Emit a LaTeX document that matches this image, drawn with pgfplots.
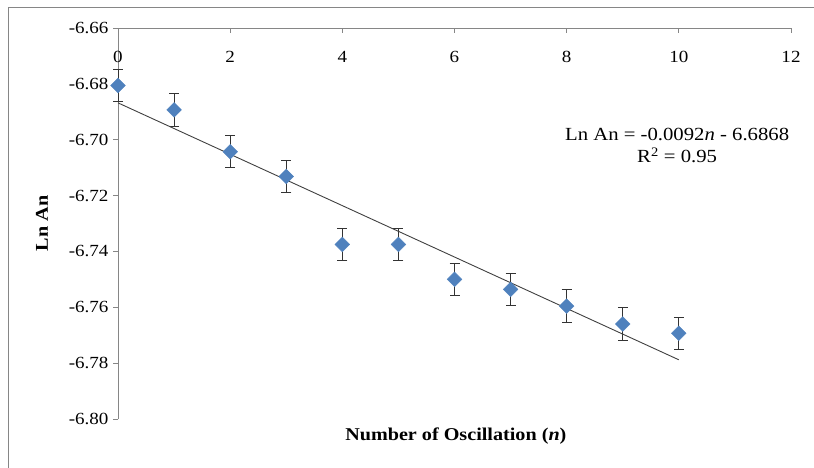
\documentclass[border=0pt]{standalone}
\usepackage{fontspec}
\setmainfont{Liberation Serif}[FakeStretch=1.12]
\usepackage{pgfplots}
\pgfplotsset{compat=1.18}
\definecolor{excelblue}{HTML}{4F81BD}
\definecolor{axisgray}{HTML}{868686}
\begin{document}
\begin{tikzpicture}[font=\fontsize{17}{20}\selectfont]
\useasboundingbox (0pt,0pt) rectangle (814pt,-467pt);
% chart area frame (cropped on right and bottom)
\draw[axisgray, line width=1pt] (8pt,-500pt) -- (8pt,-7pt) -- (850pt,-7pt);
\begin{axis}[
    at={(118pt,-419pt)}, anchor=south west,
    scale only axis, width=673pt, height=391pt,
    xmin=0, xmax=12, ymin=-6.80, ymax=-6.66,
    axis x line*=top, axis y line*=left,
    axis line style={axisgray, line width=0.8pt},
    xtick={0,2,4,6,8,10,12},
    ytick={-6.80,-6.78,-6.76,-6.74,-6.72,-6.70,-6.68,-6.66},
    /pgf/number format/assume math mode=true,
    tick align=outside, major tick length=5pt,
    tick style={axisgray, line width=0.8pt},
    x tick style={yshift=-5pt},
    x tick label style={anchor=north, yshift=-25pt},
    y tick label style={xshift=-1pt, /pgf/number format/.cd, fixed, fixed zerofill, precision=2},
    clip=false,
]
\addplot[
    only marks, mark=square*, mark size=5.2pt,
    mark options={rotate=45, fill=excelblue, draw=excelblue},
    error bars/.cd, y dir=both, y explicit,
    error bar style={black!80, line width=1pt},
    error mark options={rotate=90, mark size=5pt, black!80, line width=1pt},
] coordinates {
    (0, -6.6806) +- (0, 0.0058)
    (1, -6.6893) +- (0, 0.0058)
    (2, -6.7043) +- (0, 0.0058)
    (3, -6.7132) +- (0, 0.0058)
    (4, -6.7375) +- (0, 0.0058)
    (5, -6.7375) +- (0, 0.0058)
    (6, -6.7500) +- (0, 0.0058)
    (7, -6.7536) +- (0, 0.0058)
    (8, -6.7596) +- (0, 0.0058)
    (9, -6.7660) +- (0, 0.0058)
    (10, -6.7693) +- (0, 0.0058)
};
% linear trendline
\addplot[black!75, line width=0.9pt] coordinates {(0, -6.6868) (10, -6.7788)};
\node[align=center, font=\fontsize{18.5}{22}\selectfont] at (axis cs:9.97,-6.7021)
    {Ln An = -0.0092\textit{n} - 6.6868\\R\textsuperscript{2} = 0.95};
\node[rotate=90, font=\fontsize{18}{22}\selectfont\bfseries] at (rel axis cs:-0.113,0.5) {Ln An};
\node[font=\fontsize{18}{22}\selectfont\bfseries] at (rel axis cs:0.502,-0.043)
    {Number of Oscillation (\textit{n})};
\end{axis}
\end{tikzpicture}
\end{document}
